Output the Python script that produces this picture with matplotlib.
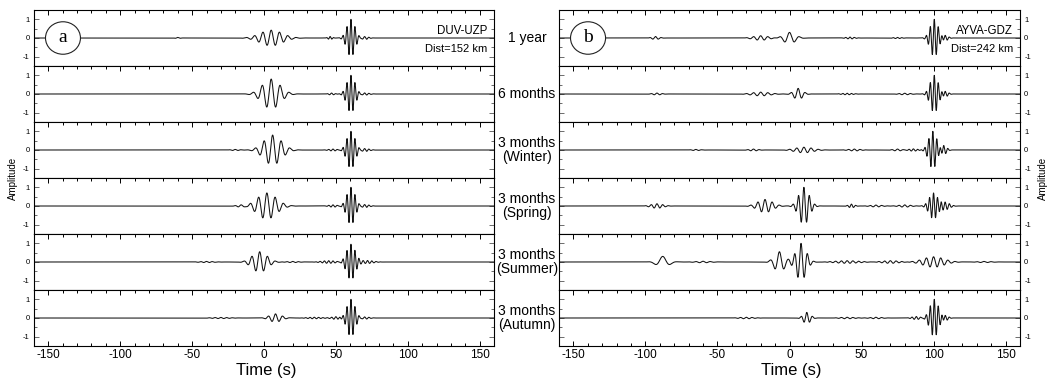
import numpy as np
import matplotlib
matplotlib.use("Agg")
import matplotlib.pyplot as plt
from matplotlib.patches import Ellipse
from matplotlib.ticker import MultipleLocator

plt.rcParams['font.family'] = ['Liberation Sans', 'DejaVu Sans']

STACK_LABELS = ['1 year', '6 months', '3 months\n(Winter)', '3 months\n(Spring)',
                '3 months\n(Summer)', '3 months\n(Autumn)']
X_TICKS = [-150, -100, -50, 0, 50, 100, 150]
Y_TICKS = [-1, 0, 1]

# Wave packets of each stacked cross-correlation:
# (centre time [s], amplitude, period [s], gaussian half-width [s])
DUV_1YEAR = [(-60, 0.03, 4, 1.5), (5, 0.42, 5.8, 7.5), (46, 0.08, 2.5, 1.5),
             (60.5, 1.0, 2.8, 2.8), (70, 0.08, 3, 2.5)]
DUV_6MONTHS = [(5, 0.8, 6.3, 6.0), (47, 0.05, 3, 2), (60.5, 1.0, 2.8, 2.8),
               (70, 0.06, 3, 3)]
DUV_WINTER = [(6, 0.8, 6.0, 6.0), (-20, 0.03, 4, 3), (48, 0.05, 3, 3),
              (60.5, 1.0, 2.8, 2.8), (70, 0.08, 3, 3)]
DUV_SPRING = [(-16, 0.05, 4, 3), (2, 0.7, 5.8, 6.5), (48, 0.06, 3, 3),
              (60.5, 1.0, 2.8, 2.8), (70, 0.08, 3, 3)]
DUV_SUMMER = [(-40, 0.03, 4, 5), (-3, 0.55, 5.5, 5.0), (20, 0.03, 4, 4),
              (45, 0.07, 3, 5), (60.5, 0.95, 2.8, 3.0), (72, 0.08, 3, 4)]
DUV_AUTUMN = [(-30, 0.03, 4, 6), (8, 0.22, 5.0, 4.0), (35, 0.04, 3, 5),
              (50, 0.07, 3, 3), (60.5, 1.0, 2.8, 2.8), (70, 0.06, 3, 3)]

AYVA_1YEAR = [(-93, 0.08, 4, 2.5), (-20, 0.12, 5, 5), (0, 0.3, 7, 4),
              (42, 0.05, 3, 3), (75, 0.03, 3, 3), (100.5, 1.0, 2.8, 2.8),
              (108, 0.15, 3, 2)]
AYVA_6MONTHS = [(-92, 0.05, 4, 3), (-20, 0.1, 5, 6), (6, 0.3, 5, 3),
                (40, 0.04, 3, 4), (80, 0.04, 4, 4), (100.5, 1.0, 2.8, 2.8),
                (108, 0.15, 3, 2)]
AYVA_WINTER = [(-65, 0.03, 4, 3), (-25, 0.05, 4, 3), (10, 0.15, 5, 6),
               (45, 0.05, 4, 4), (75, 0.05, 4, 3), (86, 0.06, 3, 3),
               (99.5, 1.0, 2.8, 2.8), (107, 0.25, 3, 2)]
AYVA_SPRING = [(-92, 0.12, 4, 4), (-17, 0.35, 5, 5), (10, 1.0, 3.8, 3.5),
               (43, 0.1, 3, 2), (60, 0.05, 4, 4), (80, 0.06, 4, 4),
               (100, 0.7, 2.8, 3.0), (108, 0.2, 3, 3)]
AYVA_SUMMER = [(-88, 0.3, 11, 4), (-60, 0.04, 5, 5), (-7, 0.55, 6.5, 3.5),
               (8, 1.0, 4.5, 3.5), (40, 0.07, 4, 8), (70, 0.07, 4, 6),
               (100, 0.28, 5, 7), (135, 0.03, 5, 5)]
AYVA_AUTUMN = [(-30, 0.04, 4, 5), (12, 0.3, 4, 2.5), (40, 0.04, 4, 5),
               (60, 0.04, 4, 4), (88, 0.08, 3, 3), (100.5, 1.0, 2.8, 3.0),
               (108, 0.15, 3, 2)]

PANELS = [
    dict(letter='a', station='DUV-UZP', dist='Dist=152 km', side='left',
         traces=[DUV_1YEAR, DUV_6MONTHS, DUV_WINTER, DUV_SPRING, DUV_SUMMER, DUV_AUTUMN]),
    dict(letter='b', station='AYVA-GDZ', dist='Dist=242 km', side='right',
         traces=[AYVA_1YEAR, AYVA_6MONTHS, AYVA_WINTER, AYVA_SPRING, AYVA_SUMMER, AYVA_AUTUMN]),
]


def synth(packets, t):
    y = np.zeros_like(t)
    for t0, a, period, width in packets:
        y += a * np.exp(-0.5 * ((t - t0) / width) ** 2) * np.cos(2 * np.pi * (t - t0) / period)
    return y


W, H = 1054, 381
fig = plt.figure(figsize=(W / 100, H / 100), dpi=100)
t = np.arange(-160, 160.001, 0.05)

panel_left_px = [34, 559]
panel_width_px = [460, 461]
top_px, row_px = 10, 56

for p, panel in enumerate(PANELS):
    for i, packets in enumerate(panel['traces']):
        bottom = 1 - (top_px + row_px * (i + 1)) / H
        ax = fig.add_axes([panel_left_px[p] / W, bottom, panel_width_px[p] / W, row_px / H])
        ax.plot(t, synth(packets, t), color='#111111', lw=0.75)
        ax.set_xlim(-160, 160)
        ax.set_ylim(-1.5, 1.5)
        ax.set_xticks(X_TICKS)
        ax.xaxis.set_minor_locator(MultipleLocator(10))
        ax.set_yticks(Y_TICKS)
        ax.yaxis.set_minor_locator(MultipleLocator(0.5))
        last = i == len(panel['traces']) - 1
        ax.tick_params(axis='x', which='both', direction='in', top=True, bottom=last,
                       labelbottom=last, labeltop=False, labelsize=8.5, width=0.7, pad=2)
        ax.tick_params(axis='x', which='major', length=3.5)
        ax.tick_params(axis='x', which='minor', length=2)
        ax.tick_params(axis='y', which='both', direction='in', left=True, right=True,
                       labelleft=panel['side'] == 'left', labelright=panel['side'] == 'right',
                       labelsize=5.5, width=0.6, pad=3, colors='#555555', labelcolor='black')
        ax.tick_params(axis='y', which='major', length=3.5)
        ax.tick_params(axis='y', which='minor', length=2)
        if last:
            ax.set_xticklabels([str(v) for v in X_TICKS])
        ax.set_yticklabels([str(v) for v in Y_TICKS])
        for s in ax.spines.values():
            s.set_linewidth(0.8)
        if i == 0:
            ax.add_patch(Ellipse((0.063, 0.5), 0.076, 0.58, transform=ax.transAxes,
                                 facecolor='white', edgecolor='#222222', lw=0.8, zorder=3))
            ax.text(0.063, 0.5, panel['letter'], transform=ax.transAxes, ha='center',
                    va='center', fontsize=14, family=['Liberation Serif', 'DejaVu Serif'],
                    zorder=4)
            ax.text(0.985, 0.62, panel['station'], transform=ax.transAxes, ha='right',
                    va='center', fontsize=8.3)
            ax.text(0.985, 0.31, panel['dist'], transform=ax.transAxes, ha='right',
                    va='center', fontsize=8)

for i, label in enumerate(STACK_LABELS):
    yc = 1 - (top_px + row_px * (i + 0.5)) / H
    fig.text(527 / W, yc, label, ha='center', va='center', fontsize=10, linespacing=1.0)

fig.text(13 / W, 1 - 178 / H, 'Amplitude', rotation=90, ha='center', va='center', fontsize=7)
fig.text(1043 / W, 1 - 178 / H, 'Amplitude', rotation=90, ha='center', va='center', fontsize=7)
fig.text(266 / W, 1 - 370 / H, 'Time (s)', ha='center', va='center', fontsize=12)
fig.text(791 / W, 1 - 370 / H, 'Time (s)', ha='center', va='center', fontsize=12)

fig.savefig('out.png', dpi=100)
